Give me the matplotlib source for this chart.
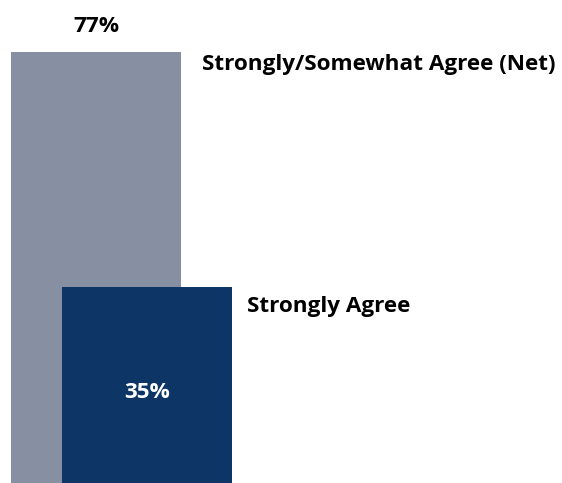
import matplotlib
matplotlib.use("Agg")
import matplotlib.pyplot as plt

categories = ["Strongly/Somewhat Agree (Net)", "Strongly Agree"]
values = [77, 35]
value_labels = ["77%", "35%"]
colors = ["#878FA3", "#0D3666"]

W, H = 562, 483
fig = plt.figure(figsize=(W / 100, H / 100), dpi=100)
ax = fig.add_axes([0, 0, 1, 1])
ax.set_xlim(0, W)
ax.set_ylim(0, 77 / ((H - 52) / H))
ax.axis("off")

centers = [96, 147]
width = 170
font = "Open Sans"
fs = 16.2

for i, (cat, v, lab, c) in enumerate(zip(categories, values, value_labels, colors)):
    ax.bar(centers[i], v, width=width, color=c, zorder=i + 1)

ymax = ax.get_ylim()[1]
def py(pix):
    return ymax * (H - pix) / H

# value labels
ax.text(96, py(32), value_labels[0], ha="center", va="baseline", fontsize=fs,
        fontweight="bold", family=font, color="black")
ax.text(147, py(398), value_labels[1], ha="center", va="baseline",
        fontsize=fs, fontweight="bold", family=font, color="white", zorder=5)

# category labels
ax.text(202, py(70), categories[0], ha="left", va="baseline", fontsize=fs,
        fontweight="bold", family=font, color="black")
ax.text(247, py(312), categories[1], ha="left", va="baseline", fontsize=fs,
        fontweight="bold", family=font, color="black")

fig.savefig("out.png", dpi=100)
